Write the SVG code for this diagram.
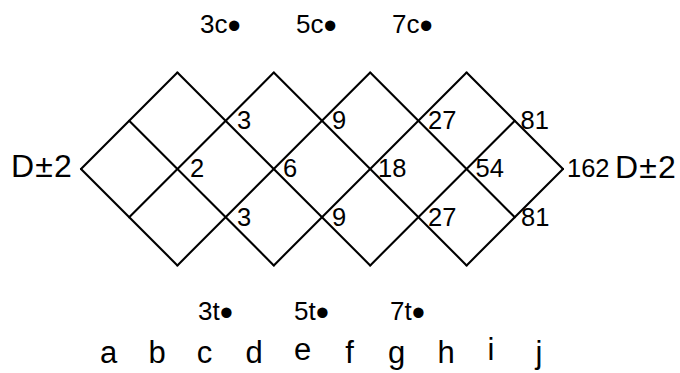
<svg xmlns="http://www.w3.org/2000/svg" width="680" height="373" viewBox="0 0 680 373">
<style>
text{font-family:"Liberation Sans",Arial,Helvetica,sans-serif;fill:#000}
.n{font-size:25.5px}
.big{font-size:32px;letter-spacing:1.2px}
.lab{font-size:26px}
.dot{font-size:38px}
.let{font-size:31px;text-anchor:middle}
#connectors line{stroke:#000;stroke-width:2.1;stroke-linecap:round}
</style>
<rect width="680" height="373" fill="#fff"/>
<g id="connectors">
<line x1="81" y1="169" x2="177.4" y2="265.4"/>
<line x1="129.2" y1="120.8" x2="273.8" y2="265.4"/>
<line x1="177.4" y1="72.6" x2="370.2" y2="265.4"/>
<line x1="273.8" y1="72.6" x2="466.6" y2="265.4"/>
<line x1="370.2" y1="72.6" x2="514.8" y2="217.2"/>
<line x1="466.6" y1="72.6" x2="563" y2="169"/>
<line x1="81" y1="169" x2="177.4" y2="72.6"/>
<line x1="129.2" y1="217.2" x2="273.8" y2="72.6"/>
<line x1="177.4" y1="265.4" x2="370.2" y2="72.6"/>
<line x1="273.8" y1="265.4" x2="466.6" y2="72.6"/>
<line x1="370.2" y1="265.4" x2="514.8" y2="120.8"/>
<line x1="466.6" y1="265.4" x2="563" y2="169"/>
</g>
<g id="left"><text class="big" x="73" y="177" text-anchor="end">D±2</text></g>
<g id="n-u3"><text class="n" x="237" y="129">3</text></g>
<g id="n-u9"><text class="n" x="332" y="129">9</text></g>
<g id="n-u27"><text class="n" x="428" y="129">27</text></g>
<g id="n-u81"><text class="n" x="520.5" y="128.5">81</text></g>
<g id="n-m2"><text class="n" x="190" y="177">2</text></g>
<g id="n-m6"><text class="n" x="283" y="177">6</text></g>
<g id="n-m18"><text class="n" x="378" y="177">18</text></g>
<g id="n-m54"><text class="n" x="475.5" y="177">54</text></g>
<g id="n-l3"><text class="n" x="237" y="225.5">3</text></g>
<g id="n-l9"><text class="n" x="332" y="225.5">9</text></g>
<g id="n-l27"><text class="n" x="428" y="225.5">27</text></g>
<g id="n-l81"><text class="n" x="521" y="225.5">81</text></g>
<g id="right"><text class="n" x="567" y="177">162</text><text class="big" x="615" y="177.5">D±2</text></g>
<g id="top-labels">
<text class="lab" x="200" y="33">3c<tspan class="dot" dy="6">•</tspan></text>
<text class="lab" x="296" y="33">5c<tspan class="dot" dy="6">•</tspan></text>
<text class="lab" x="392" y="33">7c<tspan class="dot" dy="6">•</tspan></text>
</g>
<g id="bottom-labels">
<text class="lab" x="198" y="320">3t<tspan class="dot" dy="5.5">•</tspan></text>
<text class="lab" x="294" y="320">5t<tspan class="dot" dy="5.5">•</tspan></text>
<text class="lab" x="390" y="320">7t<tspan class="dot" dy="5.5">•</tspan></text>
</g>
<g id="letters">
<text class="let" x="108.7" y="363">a</text>
<text class="let" x="157" y="363">b</text>
<text class="let" x="204.5" y="363">c</text>
<text class="let" x="254" y="363">d</text>
<text class="let" x="302.5" y="360">e</text>
<text class="let" x="349.5" y="363">f</text>
<text class="let" x="396.5" y="363">g</text>
<text class="let" x="446" y="363">h</text>
<text class="let" x="491" y="360">i</text>
<text class="let" x="539" y="363">j</text>
</g>
</svg>
